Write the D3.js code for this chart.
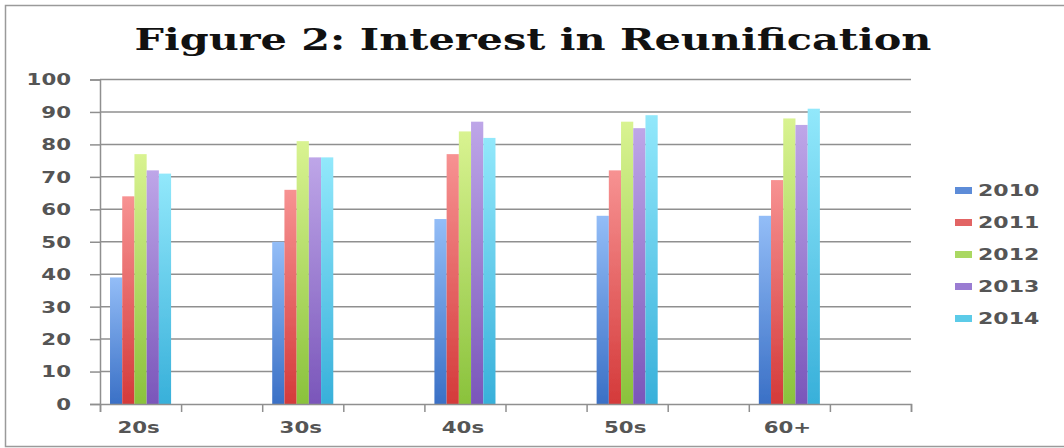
<!DOCTYPE html>
<html>
<head>
<meta charset="utf-8">
<script src="https://cdn.jsdelivr.net/npm/d3@7/dist/d3.min.js"></script>
<style>
  html, body { margin: 0; padding: 0; background: #fff; }
  svg { display: block; }
</style>
</head>
<body>
<svg id="chart" width="1064" height="448"></svg>
<script>
// Age groups and survey years
const categories = ["20s", "30s", "40s", "50s", "60+"];
const years = ["2010", "2011", "2012", "2013", "2014"];

// Percent interested in reunification, one array per year
const v2010 = [39, 50, 57, 58, 58];
const v2011 = [64, 66, 77, 72, 69];
const v2012 = [77, 81, 84, 87, 88];
const v2013 = [72, 76, 87, 85, 86];
const v2014 = [71, 76, 82, 89, 91];
const seriesValues = [v2010, v2011, v2012, v2013, v2014];

const yTicks = [0, 10, 20, 30, 40, 50, 60, 70, 80, 90, 100];

// bar colours: [top light, bottom dark, legend swatch]
const palette = [
  ["#93bdf7", "#3a70c6", "#5d8cd8"],
  ["#f79292", "#d43a3a", "#e26464"],
  ["#d9f391", "#8ac23c", "#aad862"],
  ["#bea6e8", "#7a56ba", "#9a7cd2"],
  ["#92e8fb", "#38b0da", "#5ccbe8"]
];

const svg = d3.select("#chart");
const plotL = 100, plotR = 911, plotT = 79.5, plotB = 404;
const sx = 1.42;   // horizontal stretch of the labels

// outer frame
svg.append("rect")
  .attr("x", 5.5).attr("y", 5.5)
  .attr("width", 1070).attr("height", 441)
  .attr("fill", "#fff").attr("stroke", "#9a9a9a").attr("stroke-width", 1.5);

// gradients and a soft halo for the bars
const defs = svg.append("defs");
palette.forEach((p, i) => {
  const g = defs.append("linearGradient")
    .attr("id", "grad" + i).attr("x1", 0).attr("y1", 0).attr("x2", 0).attr("y2", 1);
  g.append("stop").attr("offset", "0%").attr("stop-color", p[0]);
  g.append("stop").attr("offset", "100%").attr("stop-color", p[1]);
});
const soft = defs.append("filter").attr("id", "soft")
  .attr("x", "-20%").attr("y", "-5%").attr("width", "140%").attr("height", "110%");
soft.append("feGaussianBlur").attr("stdDeviation", 0.6);

// scales: each age group sits in the first of two slots along the axis
const slots = d3.range(categories.length * 2);
const xSlot = d3.scaleBand().domain(slots).range([plotL, plotR]);
const xInner = d3.scaleBand().domain(years).range([0, xSlot.bandwidth()]).paddingOuter(0.82);
const y = d3.scaleLinear().domain([0, 100]).range([plotB, plotT]);

// stretch a text node horizontally around its anchor point
function stretch(sel, k) {
  sel.each(function () {
    const t = d3.select(this);
    const x = +t.attr("x") || 0, yy = +t.attr("y") || 0;
    t.attr("x", 0).attr("y", 0)
     .attr("transform", `translate(${x},${yy}) scale(${k},1)`);
  });
}

// horizontal gridlines
svg.append("g").selectAll("line").data(yTicks.filter(d => d > 0)).join("line")
  .attr("x1", plotL).attr("x2", plotR)
  .attr("y1", d => y(d)).attr("y2", d => y(d))
  .attr("stroke", "#8f8f8f").attr("stroke-width", 1.5);

// y axis
const yAxis = svg.append("g").attr("transform", `translate(${plotL},0)`)
  .call(d3.axisLeft(y).tickValues(yTicks).tickSize(10).tickPadding(0));
yAxis.select(".domain").attr("stroke", "#8f8f8f").attr("stroke-width", 1.5);
yAxis.selectAll(".tick line").attr("stroke", "#8f8f8f").attr("stroke-width", 1.5);
yAxis.selectAll("text")
  .attr("x", -29).attr("dy", "0.36em")
  .attr("font-family", "DejaVu Sans").attr("font-size", 15).attr("font-weight", "bold")
  .attr("fill", "#555");
stretch(yAxis.selectAll("text"), sx);

// bars
const groups = svg.append("g").attr("filter", "url(#soft)")
  .selectAll("g").data(categories).join("g")
  .attr("transform", (d, i) => `translate(${xSlot(i * 2)},0)`);
groups.selectAll("rect")
  .data((d, ci) => years.map((yr, si) => ({ yr, si, value: seriesValues[si][ci] })))
  .join("rect")
  .attr("x", d => xInner(d.yr))
  .attr("width", xInner.bandwidth())
  .attr("y", d => y(d.value))
  .attr("height", d => y(0) - y(d.value))
  .attr("fill", d => `url(#grad${d.si})`);

// x axis: line, tick marks between slots, labels under each group
const xEdge = d3.scaleLinear().domain([0, slots.length]).range([plotL, plotR]);
const xAxis = svg.append("g").attr("transform", `translate(0,${plotB})`)
  .call(d3.axisBottom(xEdge).tickValues(d3.range(slots.length + 1)).tickSize(8).tickFormat(""));
xAxis.select(".domain").attr("stroke", "#8f8f8f").attr("stroke-width", 1.5);
xAxis.selectAll(".tick line").attr("stroke", "#8f8f8f").attr("stroke-width", 1.5);

const xLabels = svg.append("g").selectAll("text").data(categories).join("text")
  .attr("x", (d, i) => xSlot(i * 2) + xSlot.bandwidth() / 2 - 2)
  .attr("y", 433)
  .attr("text-anchor", "middle")
  .attr("font-family", "DejaVu Sans").attr("font-size", 15).attr("font-weight", "bold")
  .attr("fill", "#555")
  .text(d => d);
stretch(xLabels, sx);

// title
const title = svg.append("text")
  .attr("x", 533).attr("y", 50)
  .attr("text-anchor", "middle")
  .attr("font-family", "DejaVu Serif").attr("font-size", 30).attr("font-weight", "bold")
  .attr("font-stretch", "condensed")
  .attr("fill", "#111")
  .text("Figure 2: Interest in Reunification");
const tw = title.node().getComputedTextLength();
stretch(title, 797 / tw);

// legend
const legend = svg.append("g").selectAll("g").data(years).join("g")
  .attr("transform", (d, i) => `translate(955,${190.5 + i * 32})`);
legend.append("rect")
  .attr("x", 0).attr("y", -3.5).attr("width", 17).attr("height", 7)
  .attr("fill", (d, i) => palette[i][2]);
const legText = legend.append("text")
  .attr("x", 23).attr("y", 0).attr("dy", "0.36em")
  .attr("font-family", "DejaVu Sans").attr("font-size", 15).attr("font-weight", "bold")
  .attr("fill", "#555")
  .text(d => d);
stretch(legText, 1.47);
</script>
</body>
</html>
